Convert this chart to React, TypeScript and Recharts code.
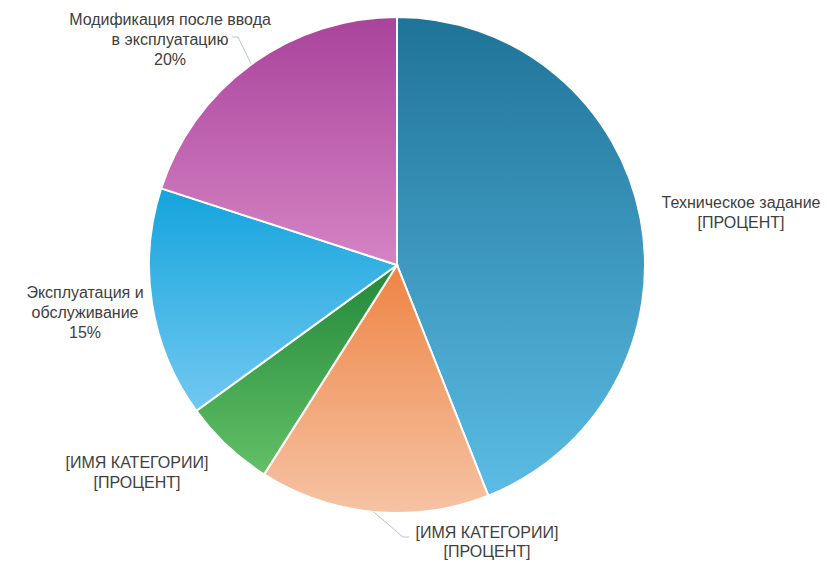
import { PieChart, Pie, Cell } from "recharts";

const categories = [
  "Техническое задание",
  "[ИМЯ КАТЕГОРИИ]",
  "[ИМЯ КАТЕГОРИИ]",
  "Эксплуатация и обслуживание",
  "Модификация после ввода в эксплуатацию",
];
const shares = [44, 15, 6, 15, 20];
const labelLines = [
  ["Техническое задание", "[ПРОЦЕНТ]"],
  ["[ИМЯ КАТЕГОРИИ]", "[ПРОЦЕНТ]"],
  ["[ИМЯ КАТЕГОРИИ]", "[ПРОЦЕНТ]"],
  ["Эксплуатация и", "обслуживание", "15%"],
  ["Модификация после ввода", "в эксплуатацию", "20%"],
];

const data = categories.map((name, i) => ({ name, value: shares[i] }));

// top / bottom gradient stops per slice
const gradients = [
  ["#1f7398", "#5bbce4"],
  ["#ee8444", "#f6c3a4"],
  ["#23883a", "#62c066"],
  ["#14a4dc", "#72c8f1"],
  ["#a9439b", "#d584c4"],
];

// label block anchor (centre x, first baseline) relative to pie centre
const labelPos = [
  { dx: 344, dy: -57 },
  { dx: 90, dy: 273 },
  { dx: -260, dy: 203 },
  { dx: -312, dy: 33 },
  { dx: -227, dy: -240 },
];
const LINE_H = 20;
const RAD = Math.PI / 180;

function renderLabel(props: any) {
  const { cx, cy, midAngle, outerRadius, index } = props;
  const p = labelPos[index];
  const lines = labelLines[index];
  const x = cx + p.dx;
  const y = cy + p.dy;
  let leader = null;
  if (index === 1 || index === 4) {
    const sx = cx + outerRadius * Math.cos(-midAngle * RAD);
    const sy = cy + outerRadius * Math.sin(-midAngle * RAD);
    const ex = index === 1 ? x - 84 : x + 68;
    const ey = index === 1 ? y - 1 : y + 12;
    leader = (
      <polyline
        points={`${sx},${sy} ${ex},${ey}${index === 1 ? ` ${ex + 6},${ey}` : ` ${ex - 6},${ey}`}`}
        fill="none"
        stroke="#b9c6c6"
        strokeWidth={1}
      />
    );
  }
  return (
    <g key={`lbl-${index}`}>
      {leader}
      <text
        x={x}
        y={y}
        textAnchor="middle"
        fill="#404040"
        fontSize={16}
        fontFamily="'Liberation Sans', Arial, sans-serif"
      >
        {lines.map((l, i) => (
          <tspan key={i} x={x} dy={i === 0 ? 0 : index === 1 ? 19 : LINE_H}>
            {l}
          </tspan>
        ))}
      </text>
    </g>
  );
}

export default function App() {
  return (
    <div style={{ position: "absolute", left: 0, top: 0, width: 827, height: 562, background: "#fff" }}>
      <PieChart width={827} height={562} margin={{ top: 0, right: 0, bottom: 0, left: 0 }}>
        <defs>
          {gradients.map(([a, b], i) => (
            <linearGradient key={i} id={`g${i}`} x1="0" y1="0" x2="0" y2="1">
              <stop offset="0%" stopColor={a} />
              <stop offset="100%" stopColor={b} />
            </linearGradient>
          ))}
        </defs>
        <Pie
          data={data}
          dataKey="value"
          nameKey="name"
          cx={397}
          cy={265}
          outerRadius={248}
          startAngle={90}
          endAngle={-270}
          stroke="#ffffff"
          strokeWidth={2}
          label={renderLabel}
          labelLine={false}
          isAnimationActive={false}
        >
          {data.map((_, i) => (
            <Cell key={i} fill={`url(#g${i})`} />
          ))}
        </Pie>
      </PieChart>
    </div>
  );
}
